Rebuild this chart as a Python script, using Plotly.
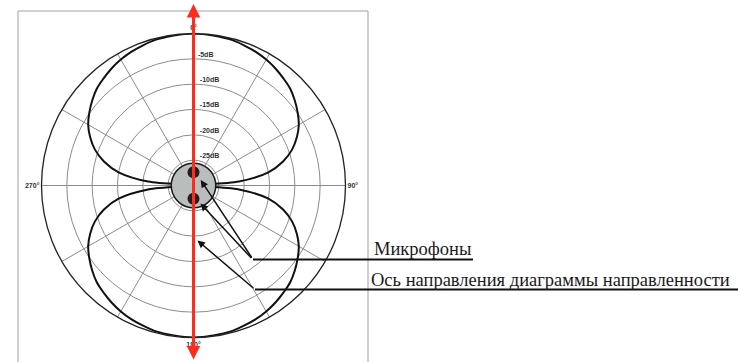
import plotly.graph_objects as go

W, H = 738, 362

# Polar pattern (figure-8), angle in degrees (0 = top, clockwise), level in dB
theta_deg = [0, 5, 10, 15, 20, 25, 30, 35, 40, 45, 50, 55, 60, 65, 70, 75, 80, 85, 90,
             95, 100, 105, 110, 115, 120, 125, 130, 135, 140, 145, 150, 155, 160, 165, 170, 175, 180,
             185, 190, 195, 200, 205, 210, 215, 220, 225, 230, 235, 240, 245, 250, 255, 260, 265, 270,
             275, 280, 285, 290, 295, 300, 305, 310, 315, 320, 325, 330, 335, 340, 345, 350, 355, 360]
level_db = [0.0, -0.1, -0.2, -0.3, -0.6, -0.9, -1.3, -1.8, -2.4, -3.0, -3.9, -4.9, -6.0, -7.5, -9.3, -11.7, -15.0, -21.0, -30.0,
            -21.0, -15.0, -11.7, -9.3, -7.5, -6.0, -4.9, -3.9, -3.0, -2.4, -1.8, -1.3, -0.9, -0.6, -0.3, -0.2, -0.1, 0.0,
            -0.1, -0.2, -0.3, -0.6, -0.9, -1.3, -1.8, -2.4, -3.0, -3.9, -4.9, -6.0, -7.5, -9.3, -11.7, -15.0, -21.0, -30.0,
            -21.0, -15.0, -11.7, -9.3, -7.5, -6.0, -4.9, -3.9, -3.0, -2.4, -1.8, -1.3, -0.9, -0.6, -0.3, -0.2, -0.1, 0.0]

# Radial axis (dB)
radial_range = [-30, 0]
radial_ticks = [-25, -20, -15, -10, -5]
radial_labels = ["-25dB", "-20dB", "-15dB", "-10dB", "-5dB"]

# Angular axis
angle_ticks = [0, 30, 60, 90, 120, 150, 180, 210, 240, 270, 300, 330]
angle_labels = ["0°", "", "", "90°", "", "", "180°", "", "", "270°", "", ""]

# Microphone capsule body (grey disk) and the two capsules
hub_theta = [0, 20, 40, 60, 80, 100, 120, 140, 160, 180, 200, 220, 240, 260, 280, 300, 320, 340, 360]
hub_r = [-25.6] * len(hub_theta)
mic_theta = [0, 180]
mic_r = [-27.4, -27.4]

# Legend labels
label_mics = "Микрофоны"
label_axis = "Ось направления диаграммы направленности"

fig = go.Figure()

fig.add_trace(go.Scatterpolar(
    theta=theta_deg, r=level_db, mode="lines",
    line=dict(color="#111111", width=2, shape="spline"),
    hoverinfo="skip", showlegend=False))

fig.add_trace(go.Scatterpolar(
    theta=hub_theta, r=hub_r, mode="lines", fill="toself",
    fillcolor="#b9bdbb", line=dict(color="#1a1a1a", width=1.5, shape="spline"),
    hoverinfo="skip", showlegend=False))

fig.add_trace(go.Scatterpolar(
    theta=mic_theta, r=mic_r, mode="markers",
    marker=dict(color="#2a1c1c", size=12),
    hoverinfo="skip", showlegend=False))

# radial labels sit to the right of the vertical axis and just above each ring:
# pad with non-breaking spaces (labels are centred on the axis) and a blank second line
NB = "\u00a0"
radial_text = [NB * (3 if len(t) == 5 else 2) + t + "<br>" + NB for t in radial_labels]

cx, cy, R = 193.5, 185.5, 152
fig.update_layout(
    width=W, height=H,
    margin=dict(l=0, r=0, t=0, b=0),
    paper_bgcolor="white",
    showlegend=False,
    polar=dict(
        domain=dict(x=[(cx - R) / W, (cx + R) / W], y=[1 - (cy + R) / H, 1 - (cy - R) / H]),
        bgcolor="white",
        angularaxis=dict(
            rotation=90, direction="clockwise",
            tickmode="array", tickvals=angle_ticks, ticktext=angle_labels,
            showgrid=True, gridcolor="#8c8c8c", gridwidth=1,
            showline=True, linecolor="#222222", linewidth=1.3,
            ticks="", tickfont=dict(family="Liberation Sans", size=7, color="#333333", weight="bold"),
        ),
        radialaxis=dict(
            range=radial_range, angle=90, side="clockwise", tickangle=90,
            tickmode="array", tickvals=radial_ticks, ticktext=radial_text,
            showgrid=True, gridcolor="#8c8c8c", gridwidth=1,
            showline=False, ticks="",
            tickfont=dict(family="Liberation Sans", size=7, color="#333333", weight="bold"),
        ),
    ),
)

def px(x):
    return x / W

def py(y):
    return 1 - y / H

shapes = [
    dict(type="rect", xref="paper", yref="paper", x0=px(18), x1=px(368), y0=-0.1, y1=py(11),
         line=dict(color="#a0a0a0", width=1), layer="below"),
    dict(type="line", xref="paper", yref="paper", x0=px(253), x1=px(473), y0=py(259.5), y1=py(259.5),
         line=dict(color="#111111", width=2)),
    dict(type="line", xref="paper", yref="paper", x0=px(255), x1=px(738), y0=py(289.5), y1=py(289.5),
         line=dict(color="#111111", width=2)),
]
fig.update_layout(shapes=shapes)

annotations = [
    # red double-headed axis arrow
    dict(xref="paper", yref="paper", x=px(cx), y=py(4), ax=0, ay=357, text="",
         showarrow=True, arrowside="end+start", arrowcolor="#ff2b1c", arrowwidth=3,
         arrowhead=2, arrowsize=0.9, startarrowhead=2, startarrowsize=0.9,
         standoff=0, startstandoff=0),
    # arrows to capsules
    dict(xref="paper", yref="paper", x=px(200.7), y=py(180), ax=52, ay=79, text="",
         showarrow=True, arrowcolor="#111111", arrowwidth=1.5, arrowhead=2, arrowsize=1),
    dict(xref="paper", yref="paper", x=px(200.5), y=py(203.5), ax=52.2, ay=56, text="",
         showarrow=True, arrowcolor="#111111", arrowwidth=1.5, arrowhead=2, arrowsize=1),
    # arrow to the pattern axis
    dict(xref="paper", yref="paper", x=px(197.5), y=py(240.5), ax=57.5, ay=49, text="",
         showarrow=True, arrowcolor="#111111", arrowwidth=1.5, arrowhead=2, arrowsize=1),
    # labels
    dict(xref="paper", yref="paper", x=px(372), y=py(249), xanchor="left", yanchor="middle",
         text=label_mics, showarrow=False,
         font=dict(family="Liberation Serif", size=18.5, color="#1a1a1a")),
    dict(xref="paper", yref="paper", x=px(369), y=py(280), xanchor="left", yanchor="middle",
         text=label_axis, showarrow=False,
         font=dict(family="Liberation Serif", size=18.5, color="#1a1a1a")),
]
fig.update_layout(annotations=annotations)

fig.write_html("out.html")
